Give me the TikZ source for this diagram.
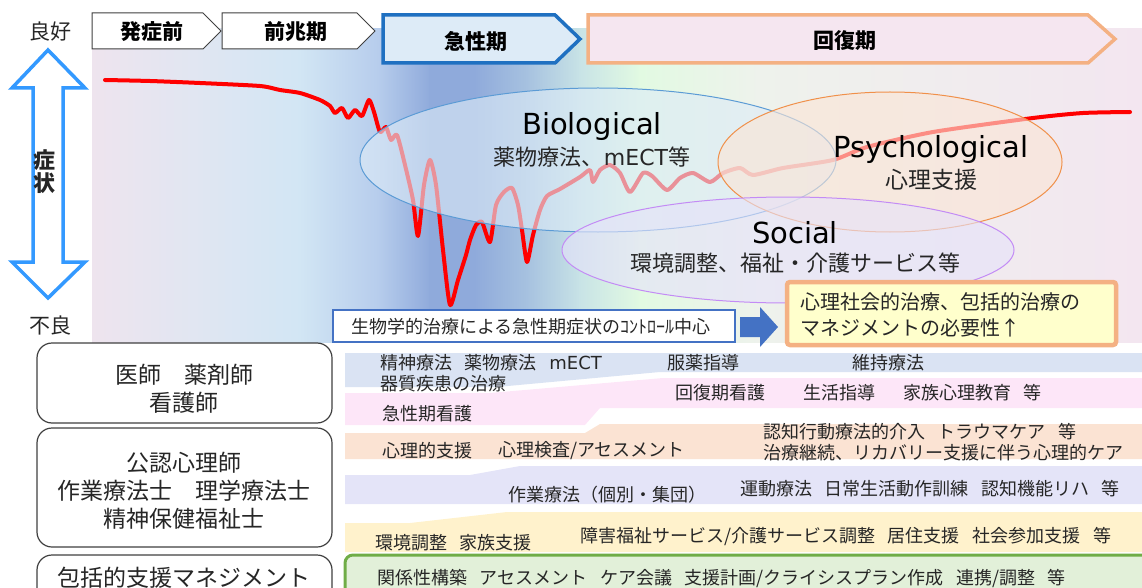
\documentclass[tikz,border=0pt]{standalone}
\usepackage{fontspec}
\setmainfont{Noto Sans CJK JP}
\newfontfamily\dejavu{DejaVu Sans}
\newcommand\myfs[1]{\fontsize{#1}{#1}\selectfont}
\newcommand\jsp{\hspace{0.7em}}
\definecolor{g0}{HTML}{EEE4EE}
\definecolor{g1}{HTML}{E0E6F2}
\definecolor{g2}{HTML}{D2E6F4}
\definecolor{g3}{HTML}{B6CCEC}
\definecolor{g4}{HTML}{8FAADB}
\definecolor{g5}{HTML}{A8C3E0}
\definecolor{g6}{HTML}{C8E3E6}
\definecolor{g7}{HTML}{E2FAE2}
\definecolor{g8}{HTML}{EEF2EC}
\definecolor{g9}{HTML}{F3E6F0}
\definecolor{textc}{HTML}{262626}
\definecolor{edgegray}{HTML}{404040}
\definecolor{acuteblue}{HTML}{1F70C1}
\definecolor{acutefill}{HTML}{DDEBF7}
\definecolor{recedge}{HTML}{F4B183}
\definecolor{recfill}{HTML}{F5E6F0}
\definecolor{arrowblue}{HTML}{3399FF}
\definecolor{bioedge}{HTML}{5B9BD5}
\definecolor{biofill}{HTML}{DDEBF7}
\definecolor{psyedge}{HTML}{F0904A}
\definecolor{psyfill}{HTML}{FBE5D6}
\definecolor{socedge}{HTML}{C38BF5}
\definecolor{socfill}{HTML}{E6E2FA}
\definecolor{boxblue}{HTML}{4472C4}
\definecolor{noteyellow}{HTML}{FFFFCC}
\definecolor{bandblue}{HTML}{DAE3F3}
\definecolor{bandpink}{HTML}{FDE6F8}
\definecolor{bandorange}{HTML}{FBE3D3}
\definecolor{bandlav}{HTML}{E4E4F8}
\definecolor{bandyellow}{HTML}{FFF2CC}
\definecolor{greenfill}{HTML}{E2F0D9}
\definecolor{greenedge}{HTML}{70AD47}
\begin{document}
\begin{tikzpicture}[x=1pt,y=-1pt,
  bandtxt/.style={font=\myfs{18}, text=textc, anchor=west, inner sep=0pt},
  roletxt/.style={font=\fontsize{23}{28}\selectfont, text=textc, align=center, inner sep=0pt},
  rolebox/.style={draw=edgegray, line width=1.2pt, fill=white, rounded corners=15pt},
  phasetxt/.style={font=\bfseries\myfs{21}, text=black, inner sep=0pt},
  titletxt/.style={font=\dejavu\myfs{29}, text=black, inner sep=0pt},
  subtxt/.style={font=\myfs{22}, text=textc, inner sep=0pt},
  axistxt/.style={font=\myfs{21}, text=textc, inner sep=0pt}]
\useasboundingbox (0,0) rectangle (1142,588);
% background gradient
\foreach \xa/\xb/\ca/\cb in {92/200/g0/g1, 199/300/g1/g2, 299/380/g2/g3, 379/430/g3/g4, 429/475/g4/g4, 474/530/g4/g5, 529/580/g5/g6, 579/640/g6/g7, 639/760/g7/g8, 759/1142/g8/g9}
  \shade[left color=\ca, right color=\cb] (\xa,29) rectangle (\xb+1,342);
% red symptom curve
\draw[red, line width=4pt, line join=round, line cap=round] plot[smooth, tension=0.4] coordinates {
(105,80) (150,81) (200,83) (260,86) (280,90) (300,93) (320,100) (330,106) (335,113) (342,108) (348,118) (355,110) (362,116) (369,100) (374,112) (380,132) (386,127) (391,140) (397,135) (405,165) (413,200) (418,236) (424,185) (430,160) (436,185) (443,250) (450,305) (458,280) (466,255) (470,240) (476,225) (482,222) (490,242) (496,205) (504,192) (512,188) (518,205) (522,230) (527,262) (533,235) (540,210) (547,196) (560,189) (580,177) (590,170) (593,182) (600,170) (610,165) (620,173) (630,192) (643,173) (652,176) (667,190) (680,178) (693,173) (710,182) (723,173) (740,168) (753,175) (783,168) (833,160) (867,147) (933,132) (1033,118) (1083,113) (1130,112)};
% ellipses
\draw[bioedge, line width=1pt, fill=biofill, fill opacity=0.62] (598,160) ellipse [x radius=238pt, y radius=72pt];
\draw[psyedge, line width=1pt, fill=psyfill, fill opacity=0.62] (890,162) ellipse [x radius=172pt, y radius=70pt];
\draw[socedge, line width=1pt, fill=socfill, fill opacity=0.62] (788,250) ellipse [x radius=226pt, y radius=53pt];
\node[titletxt] (bio) at (592,127) {Biological};
\node[subtxt] (biosub) at (592,157) {薬物療法、{\dejavu mECT}等};
\node[titletxt] (psy) at (931,150) {Psychological};
\node[subtxt, font=\myfs{23}] (psysub) at (931,180) {心理支援};
\node[titletxt] (soc) at (795,233) {Social};
\node[subtxt] (socsub) at (795,263) {環境調整、福祉・介護サービス等};
% phase chevrons
\draw[edgegray, line width=1pt, fill=white] (92,13) -- (203,13) -- (221,31) -- (203,49) -- (92,49) -- cycle;
\node[phasetxt] (p1) at (152,32) {発症前};
\draw[edgegray, line width=1pt, fill=white] (222,13) -- (357,13) -- (375,31) -- (357,49) -- (222,49) -- cycle;
\node[phasetxt] (p2) at (296,32) {前兆期};
\draw[acuteblue, line width=3.5pt, fill=acutefill] (383,15) -- (555,15) -- (580,39) -- (555,63) -- (383,63) -- cycle;
\node[phasetxt] (p3) at (476,41) {急性期};
\draw[recedge, line width=3.5pt, fill=recfill] (588,15) -- (1088,15) -- (1115,39) -- (1088,63) -- (588,63) -- cycle;
\node[phasetxt] (p4) at (845,41) {回復期};
% axis arrow
\draw[arrowblue, line width=3.5pt, fill=white, line join=miter] (48,50) -- (85,88) -- (63,88) -- (63,262) -- (85,262) -- (48,298) -- (12,262) -- (33,262) -- (33,88) -- (12,88) -- cycle;
\node[axistxt] (good) at (50,32) {良好};
\node[axistxt] (bad) at (50,326) {不良};
\node[font=\bfseries\myfs{22}, text=textc, inner sep=0pt] (s1) at (44,160) {症};
\node[font=\bfseries\myfs{22}, text=textc, inner sep=0pt] (s2) at (44,183) {状};
% bottom of chart: boxes
\draw[boxblue, line width=2.5pt, fill=white] (333,310) rectangle (735,342);
\node[font=\myfs{18}, text=textc, inner sep=0pt] (bionote) at (531,327) {生物学的治療による急性期症状のｺﾝﾄﾛｰﾙ中心};
\fill[boxblue] (740,317) -- (760,317) -- (760,307) -- (778,327) -- (760,347) -- (760,337) -- (740,337) -- cycle;
\draw[recedge, line width=4.5pt, fill=noteyellow, rounded corners=3pt] (787,282) rectangle (1116,345);
\node[font=\fontsize{20}{26}\selectfont, text=textc, align=left, anchor=west, inner sep=0pt] (psynote) at (800,315) {心理社会的治療、包括的治療の\\マネジメントの必要性↑};
% role boxes
\draw[rolebox] (37,343) rectangle (332,423);
\node[roletxt] (r1) at (184,389) {医師　薬剤師\\看護師};
\draw[rolebox] (37,428) rectangle (332,547);
\node[roletxt] (r2) at (184,491) {公認心理師\\作業療法士　理学療法士\\精神保健福祉士};
\draw[rolebox] (37,555) rectangle (332,610);
\node[roletxt] (r3) at (184,578) {包括的支援マネジメント};
% bands
\fill[bandblue] (345,353) -- (1142,353) -- (1142,372) -- (660,372) -- (497,387) -- (345,387) -- cycle;
\fill[bandpink] (345,393) -- (490,393) -- (663,378) -- (1142,378) -- (1142,408) -- (600,408) -- (585,425) -- (345,425) -- cycle;
\fill[bandorange] (345,433) -- (585,433) -- (600,424) -- (1142,424) -- (1142,459) -- (345,459) -- cycle;
\fill[bandlav] (345,475) -- (470,475) -- (520,466) -- (1142,466) -- (1142,504) -- (345,504) -- cycle;
\fill[bandyellow] (345,523) -- (410,523) -- (507,512) -- (1142,512) -- (1142,552) -- (345,552) -- cycle;
\draw[greenedge, line width=3pt, fill=greenfill, rounded corners=8pt] (345,555) rectangle (1160,610);
% band texts
\node[bandtxt] (t1) at (380,363) {精神療法\jsp 薬物療法\jsp{\dejavu mECT}};
\node[bandtxt] (t2) at (667,363) {服薬指導};
\node[bandtxt] (t3) at (852,363) {維持療法};
\node[bandtxt] (t4) at (380,384) {器質疾患の治療};
\node[bandtxt] (t5) at (675,393) {回復期看護};
\node[bandtxt] (t6) at (803,393) {生活指導};
\node[bandtxt] (t7) at (903,393) {家族心理教育\jsp 等};
\node[bandtxt] (t8) at (382,414) {急性期看護};
\node[bandtxt] (t9) at (382,451) {心理的支援};
\node[bandtxt] (t10) at (498,451) {心理検査/アセスメント};
\node[bandtxt] (t11) at (763,432) {認知行動療法的介入\jsp トラウマケア\jsp 等};
\node[bandtxt] (t12) at (763,453) {治療継続、リカバリー支援に伴う心理的ケア};
\node[bandtxt] (t13) at (508,495) {作業療法（個別・集団）};
\node[bandtxt] (t14) at (740,489) {運動療法\jsp 日常生活動作訓練\jsp 認知機能リハ\jsp 等};
\node[bandtxt] (t15) at (375,543) {環境調整\jsp 家族支援};
\node[bandtxt] (t16) at (580,537) {障害福祉サービス/介護サービス調整\jsp 居住支援\jsp 社会参加支援\jsp 等};
\node[bandtxt] (t17) at (377,578) {関係性構築\jsp アセスメント\jsp ケア会議\jsp 支援計画/クライシスプラン作成\jsp 連携/調整\jsp 等};
\end{tikzpicture}
\end{document}
